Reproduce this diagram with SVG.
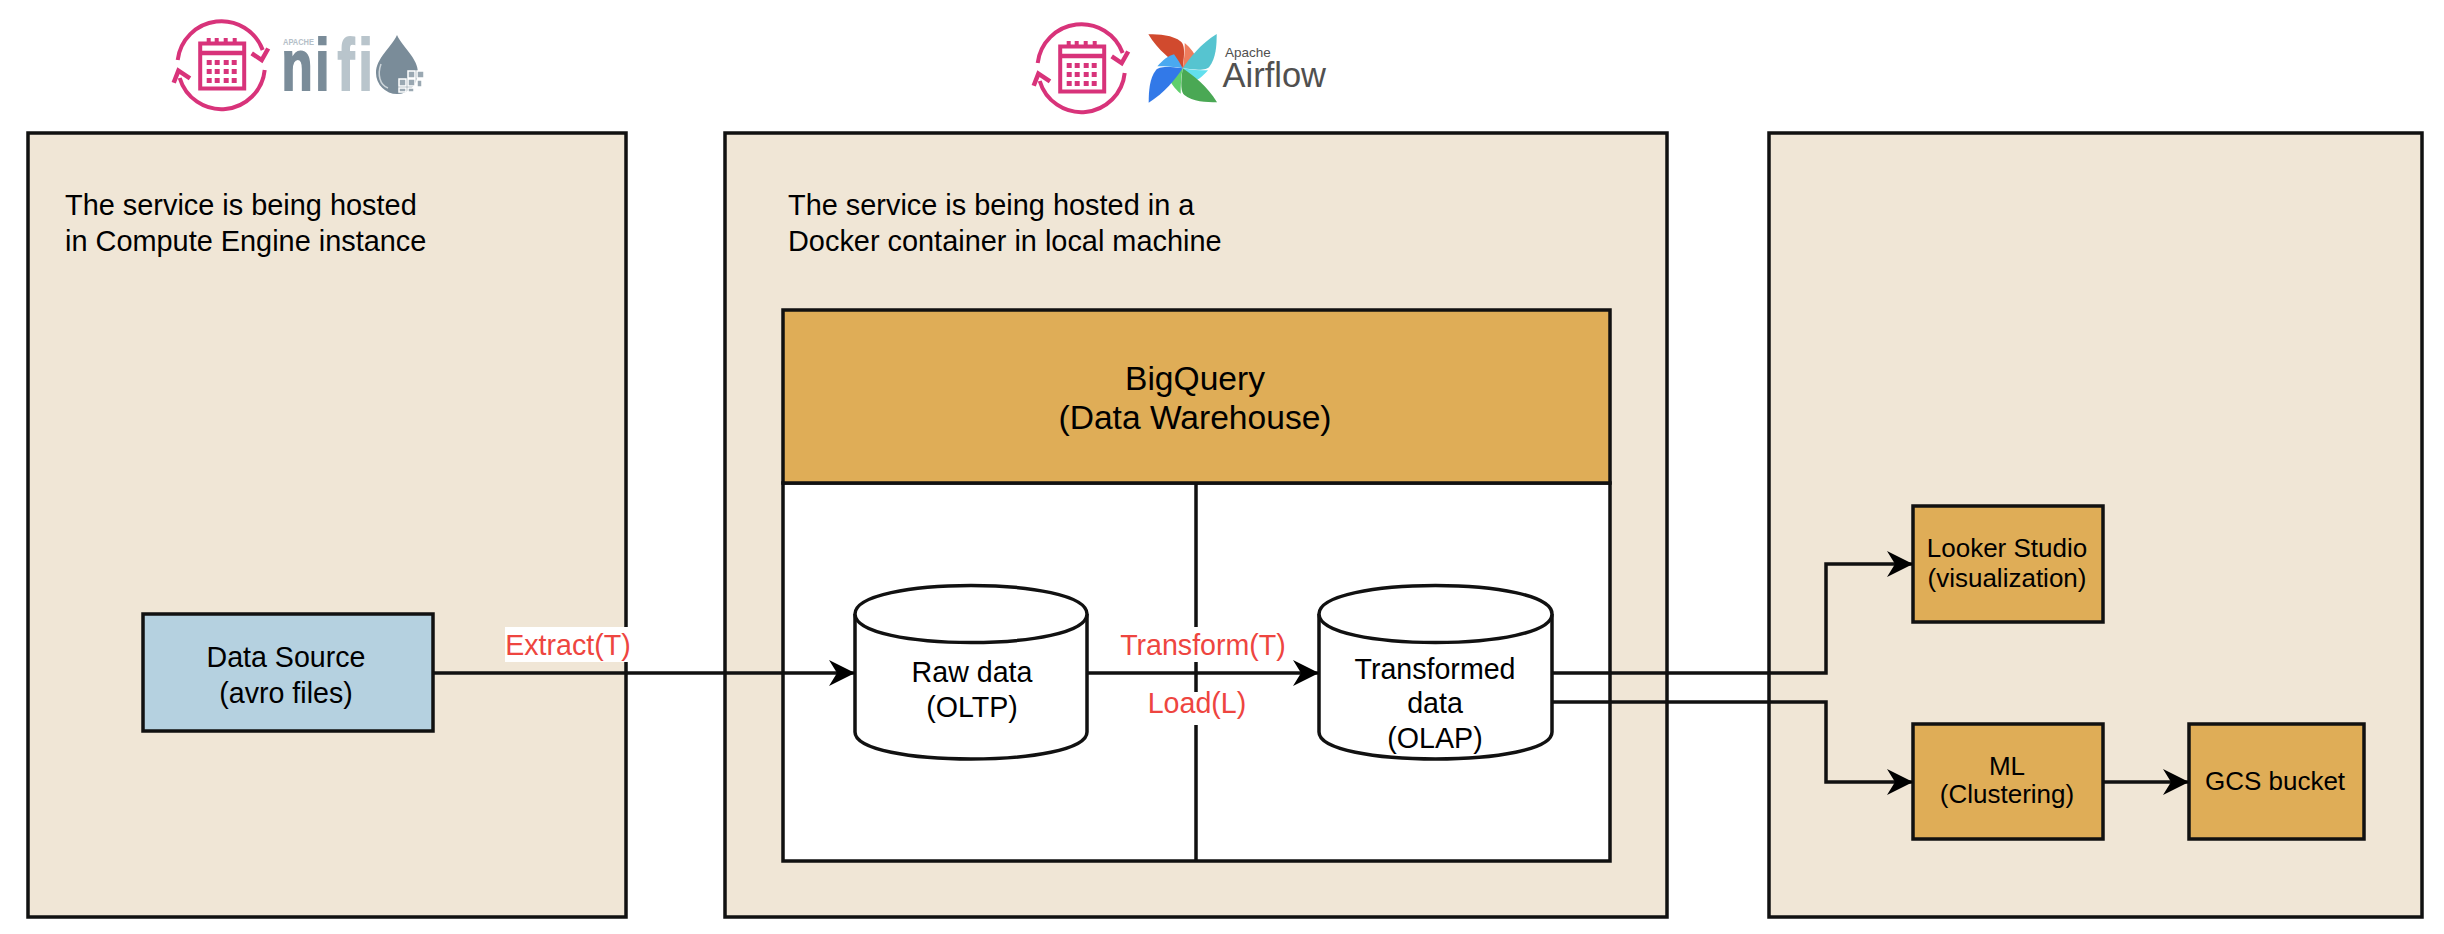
<svg xmlns="http://www.w3.org/2000/svg" width="2444" height="934" viewBox="0 0 2444 934">
<style>
text{font-family:"Liberation Sans",Arial,Helvetica,sans-serif;fill:#000}
.panel{fill:#f0e6d6;stroke:#111;stroke-width:3.5}
.box{stroke:#111;stroke-width:3.5}
.orange{fill:#dfad57}
.blue{fill:#b5d1e0}
.cyl{fill:#fff;stroke:#111;stroke-width:3.5}
.t29{font-size:28.9px}
.t26{font-size:26px;text-anchor:middle}
.c29{font-size:28.6px;text-anchor:middle}
.red{font-size:28.6px;text-anchor:middle;fill:#ee4540}
.big{font-size:33.6px;text-anchor:middle}
.conn{fill:none;stroke:#111;stroke-width:3.5}
.pk{fill:none;stroke:#d8337a;stroke-width:4}
.pk2{fill:none;stroke:#d8337a;stroke-width:4.5}
.pf{fill:#d8337a}
</style>
<defs>
<marker id="arrow" markerUnits="userSpaceOnUse" markerWidth="28" markerHeight="28" refX="26" refY="14" orient="auto">
<path d="M0 1 L26 14 L0 27 L8 14 Z" fill="#000"/>
</marker>
<g id="sched">
<path class="pk" d="M-44 -5 A44 44 0 0 1 41 -15"/>
<path class="pk" d="M43 5 A43.500 43.500 0 0 1 -42 13"/>
<path class="pk2" d="M30 -11.700 L40 -5 L46.500 -16.500"/>
<path class="pk2" d="M-31.700 13.300 L-43.300 5.700 L-48 17.700"/>
<rect class="pk" x="-21.500" y="-21.500" width="44" height="45"/>
<path class="pk2" d="M-21 -12 H22"/>
<path class="pf" d="M-15 -27h4v5h-4zM-7 -27h4v5h-4zM2 -27h4v5h-4zM11 -27h4v5h-4z"/>
<path class="pf" d="M-15 -5h5v5h-5zM-7 -5h5v5h-5zM2 -5h5v5h-5zM10 -5h5v5h-5zM-15 4h5v5h-5zM-7 4h5v5h-5zM2 4h5v5h-5zM10 4h5v5h-5zM-15 13h5v5h-5zM-7 13h5v5h-5zM2 13h5v5h-5zM10 13h5v5h-5z"/>
</g>
<path id="blade" d="M-103 -102 C-70 -102 -30 -100 -5 -80 C5 -72 7 -50 0 0 C-30 -20 -75 -55 -103 -102 Z"/>
<path id="bladeL" d="M6 -76 C25 -60 38 -42 42 -26 C25 -14 12 -6 0 0 C5 -25 6 -50 6 -76 Z"/>
</defs>

<g id="panel-left"><rect class="panel" x="28" y="133" width="598" height="784"/>
<text class="t29" x="65" y="215">The service is being hosted</text>
<text class="t29" x="65" y="251">in Compute Engine instance</text></g>

<g id="panel-middle"><rect class="panel" x="725" y="133" width="942" height="784"/>
<text class="t29" x="788" y="215">The service is being hosted in a</text>
<text class="t29" x="788" y="251">Docker container in local machine</text></g>

<g id="panel-right"><rect class="panel" x="1769" y="133" width="653" height="784"/></g>

<g id="bigquery">
<rect x="783" y="483" width="827" height="378" fill="#fff" stroke="#111" stroke-width="3.500"/>
<path d="M1196 483V861" fill="none" stroke="#111" stroke-width="3.500"/>
<rect class="box orange" x="783" y="310" width="827" height="173"/>
<text class="big" x="1195" y="390">BigQuery</text>
<text class="big" x="1195" y="429">(Data Warehouse)</text>
</g>

<g id="data-source"><rect class="box blue" x="143" y="614" width="290" height="117"/>
<text class="c29" x="286" y="667">Data Source</text>
<text class="c29" x="286" y="703">(avro files)</text></g>

<g id="raw-data">
<path class="cyl" d="M855 614 C855 576 1087 576 1087 614 V732 C1087 768 855 768 855 732 Z"/>
<path class="cyl" fill="none" d="M855 614 C855 652 1087 652 1087 614"/>
<text class="c29" x="972" y="682">Raw data</text>
<text class="c29" x="972" y="717">(OLTP)</text></g>

<g id="transformed-data">
<path class="cyl" d="M1319 614 C1319 576 1552 576 1552 614 V732 C1552 768 1319 768 1319 732 Z"/>
<path class="cyl" fill="none" d="M1319 614 C1319 652 1552 652 1552 614"/>
<text class="c29" x="1435" y="679">Transformed</text>
<text class="c29" x="1435" y="713">data</text>
<text class="c29" x="1435" y="748">(OLAP)</text></g>

<g id="looker"><rect class="box orange" x="1913" y="506" width="190" height="116"/>
<text class="t26" x="2007" y="557">Looker Studio</text>
<text class="t26" x="2007" y="587">(visualization)</text></g>

<g id="ml"><rect class="box orange" x="1913" y="724" width="190" height="115"/>
<text class="t26" x="2007" y="775">ML</text>
<text class="t26" x="2007" y="803">(Clustering)</text></g>

<g id="gcs"><rect class="box orange" x="2189" y="724" width="175" height="115"/>
<text class="t26" x="2275" y="790">GCS bucket</text></g>

<g id="connectors">
<path class="conn" marker-end="url(#arrow)" d="M433 673 H855"/>
<path class="conn" marker-end="url(#arrow)" d="M1087 673 H1319"/>
<path class="conn" marker-end="url(#arrow)" d="M1552 673 H1826 V564 H1913"/>
<path class="conn" marker-end="url(#arrow)" d="M1552 702 H1826 V782 H1913"/>
<path class="conn" marker-end="url(#arrow)" d="M2103 782 H2189"/>
</g>

<g id="labels">
<rect x="505" y="627" width="123" height="35" fill="#fff"/>
<text class="red" x="568" y="655">Extract(T)</text>
<rect x="1119" y="627" width="168" height="35" fill="#fff"/>
<text class="red" x="1203" y="655">Transform(T)</text>
<rect x="1147" y="692" width="100" height="33" fill="#fff"/>
<text class="red" x="1197" y="713">Load(L)</text>
</g>

<g id="nifi-logo">
<use href="#sched" x="221.700" y="65"/>
<text x="283" y="45" font-size="9" font-weight="700" style="fill:#b5c0c8" textLength="31" lengthAdjust="spacingAndGlyphs">APACHE</text>
<g transform="translate(283 90) scale(.7 1)">
<text font-size="73" font-weight="700" style="fill:#7a8c99;stroke:#7a8c99;stroke-width:2"><tspan x="-2">n</tspan><tspan x="46" y="0">i</tspan><tspan x="78" y="0" style="fill:#b9c5cc;stroke:#b9c5cc">f</tspan><tspan x="108" y="0" style="fill:#b9c5cc;stroke:#b9c5cc">i</tspan></text>
</g>
<path d="M397 35 C403 48 418 58 418 73 A21 21 0 0 1 376 73 C376 58 391 48 397 35 Z" fill="#7a8c99"/>
<path d="M381 64 C377 75 380 85 388 88" fill="none" stroke="#cdd5da" stroke-width="1.500"/>
<path d="M399 79h7v7h-7zM408 79h7v7h-7zM408 71h7v7h-7zM417 71h7v7h-7zM399 88h7v4h-7zM408 88h6v4h-6zM417 80h5v7h-5z" fill="#9aa8b2" stroke="#fff" stroke-width="1.500"/>
</g>

<g id="airflow-logo">
<use href="#sched" x="1081.700" y="68"/>
<g transform="translate(1182.700 68.300) scale(.3333)">
<use href="#blade" fill="#d14a2e"/><use href="#bladeL" fill="#ef7d5d"/>
<g transform="rotate(90)"><use href="#blade" fill="#56c4d0"/><use href="#bladeL" fill="#62dfee"/></g>
<g transform="rotate(180)"><use href="#blade" fill="#4aa854"/><use href="#bladeL" fill="#5fcf6c"/></g>
<g transform="rotate(270)"><use href="#blade" fill="#3279e8"/><use href="#bladeL" fill="#4aa9f0"/></g>
</g>
<text x="1225" y="57" font-size="13.500" style="fill:#51504f">Apache</text>
<text x="1222.500" y="87" font-size="34.500" style="fill:#51504f">Airflow</text>
</g>
</svg>
